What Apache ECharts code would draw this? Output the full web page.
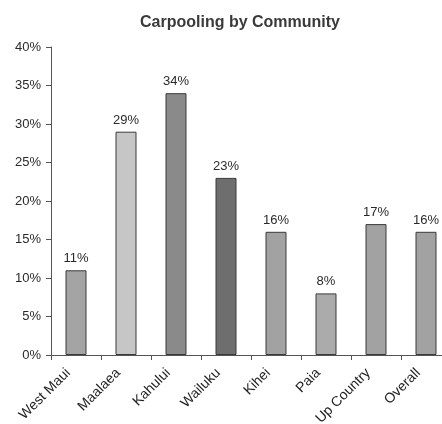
<!DOCTYPE html>
<html>
<head>
<meta charset="utf-8">
<script src="https://cdn.jsdelivr.net/npm/echarts@6/dist/echarts.min.js"></script>
<style>
  html, body { margin: 0; padding: 0; background: #fff; overflow: hidden; width: 442px; height: 424px; }
  #chart { width: 460px; height: 424px; }
</style>
</head>
<body>
<div id="chart"></div>
<script>
// Share of commuters who carpool, per community (percent)
const communities = ['West Maui', 'Maalaea', 'Kahului', 'Wailuku', 'Kihei', 'Paia', 'Up Country', 'Overall'];
const carpoolPct = [11, 29, 34, 23, 16, 8, 17, 16];
const barShades = ['#a4a4a4', '#c6c6c6', '#8a8a8a', '#6e6e6e', '#a2a2a2', '#ababab', '#a2a2a2', '#a2a2a2'];
const yTicks = [0, 5, 10, 15, 20, 25, 30, 35, 40];

const FONT = 'Liberation Sans, Arial, sans-serif';
const chart = echarts.init(document.getElementById('chart'), null, { renderer: 'canvas' });

chart.setOption({
  animation: false,
  backgroundColor: '#ffffff',
  title: {
    text: 'Carpooling by Community',
    left: 235,
    textAlign: 'center',
    top: 10,
    textStyle: { fontFamily: FONT, fontSize: 16, fontWeight: 'bold', color: '#3a3a3a' }
  },
  grid: { left: 51, top: 47, width: 400, height: 308, containLabel: false, outerBoundsMode: 'none' },
  xAxis: {
    type: 'category',
    data: communities,
    axisLine: { lineStyle: { color: '#555', width: 1 } },
    axisTick: { show: true, length: 5, lineStyle: { color: '#555' } },
    axisLabel: {
      rotate: 45,
      margin: 8,
      padding: [0, 11, 0, 0],
      fontFamily: FONT,
      fontSize: 14,
      color: '#222'
    }
  },
  yAxis: {
    type: 'value',
    min: yTicks[0],
    max: yTicks[yTicks.length - 1],
    interval: 5,
    splitLine: { show: false },
    axisLine: { show: true, lineStyle: { color: '#555', width: 1 } },
    axisTick: { show: true, length: 5, lineStyle: { color: '#555' } },
    axisLabel: {
      formatter: '{value}%',
      margin: 10,
      fontFamily: FONT,
      fontSize: 13,
      color: '#2a2a2a'
    }
  },
  series: [{
    type: 'bar',
    barWidth: 21,
    data: carpoolPct.map((v, i) => ({
      value: v,
      itemStyle: { color: barShades[i], borderColor: '#3a3a3a', borderWidth: 1 }
    })),
    label: {
      show: true,
      position: 'top',
      distance: 5,
      formatter: '{c}%',
      fontFamily: FONT,
      fontSize: 13,
      color: '#2a2a2a'
    }
  }]
});
</script>
</body>
</html>
